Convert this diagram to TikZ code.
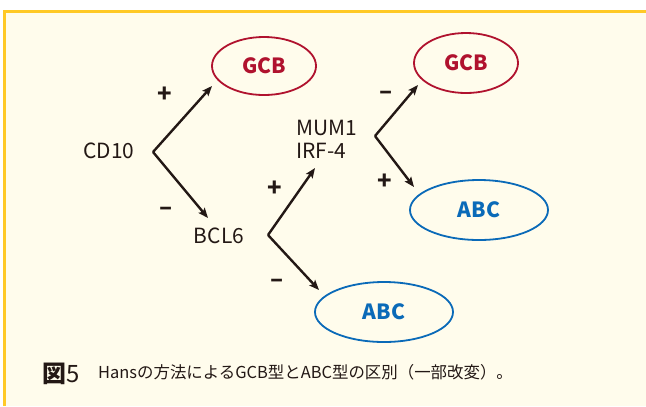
\documentclass[tikz,border=0pt]{standalone}
\usepackage{fontspec}
\usetikzlibrary{arrows.meta,shapes.geometric}
\newfontfamily\jp{Noto Sans CJK JP}
\definecolor{bgcream}{HTML}{FFFCEC}
\definecolor{frameyel}{HTML}{FFC926}
\definecolor{gcbred}{HTML}{B0122E}
\definecolor{abcblue}{HTML}{0A6AB8}
\definecolor{ink}{HTML}{231815}
\tikzset{
  lbl/.style={font=\jp\fontsize{21}{24}\selectfont, text=ink, inner sep=0pt},
  sgn/.style={font=\jp\bfseries\fontsize{24}{26}\selectfont, text=ink, inner sep=0pt},
  gcbnode/.style={ellipse, draw=gcbred, line width=1.8bp, inner sep=0pt, text=gcbred,
     font=\jp\bfseries\fontsize{21}{23}\selectfont},
  abcnode/.style={ellipse, draw=abcblue, line width=1.8bp, inner sep=0pt, text=abcblue,
     font=\jp\bfseries\fontsize{21}{23}\selectfont},
  arr/.style={draw=ink, line width=2.4bp, line join=miter, -{Stealth[length=10bp,width=8bp,inset=2bp]}},
}
\begin{document}
\begin{tikzpicture}[x=1bp,y=-1bp]
\useasboundingbox (0,0) rectangle (646,406);
\fill[white] (0,0) rectangle (646,406);
\fill[bgcream] (4,11) rectangle (646,406);
\draw[frameyel, line width=3bp] (4.3,406) -- (4.3,11.3) -- (646,11.3);

% nodes
\node[lbl] (cd10) at (109,151) {CD10};
\node[lbl] (bcl6) at (219,236) {BCL6};
\node[lbl, anchor=west, align=left] (mum) at (296,139) {MUM1\\[-1pt]IRF-4};

\node[gcbnode, minimum width=104bp, minimum height=58bp] (gcb1) at (264,66) {GCB};
\node[gcbnode, minimum width=104bp, minimum height=60bp] (gcb2) at (466,63) {GCB};
\node[abcnode, minimum width=138bp, minimum height=60bp] (abc1) at (479,210) {ABC};
\node[abcnode, minimum width=138bp, minimum height=60bp] (abc2) at (384,312) {ABC};

% fork vertices and arrow tips
\coordinate (v1) at (153,152);
\coordinate (t1a) at (212,86);
\coordinate (t1b) at (208,218);
\coordinate (v2) at (268,235);
\coordinate (t2a) at (315,168);
\coordinate (t2b) at (319,290);
\coordinate (v3) at (375,136);
\coordinate (t3a) at (418,85);
\coordinate (t3b) at (414,187);

\draw[arr] (v1) -- (t1a);
\draw[arr] (v1) -- (t1b);
\draw[arr] (v2) -- (t2a);
\draw[arr] (v2) -- (t2b);
\draw[arr] (v3) -- (t3a);
\draw[arr] (v3) -- (t3b);

% signs
\node[sgn] (p1) at (165,95) {+};
\node[sgn] (m1) at (166,211) {–};
\node[sgn] (p2) at (275,189) {+};
\node[sgn] (m2) at (277,283) {–};
\node[sgn] (m3) at (386,95) {–};
\node[sgn] (p3) at (385,182) {+};

% caption
\node[anchor=west, inner sep=0pt, text=ink, font=\jp\fontsize{24}{26}\selectfont] (fig) at (42,374) {\textbf{図}5};
\node[anchor=west, inner sep=0pt, text=ink, font=\jp\fontsize{16.5}{18}\selectfont] (cap) at (98,372) {Hansの方法によるGCB型とABC型の区別（一部改変）。};
\end{tikzpicture}
\end{document}
